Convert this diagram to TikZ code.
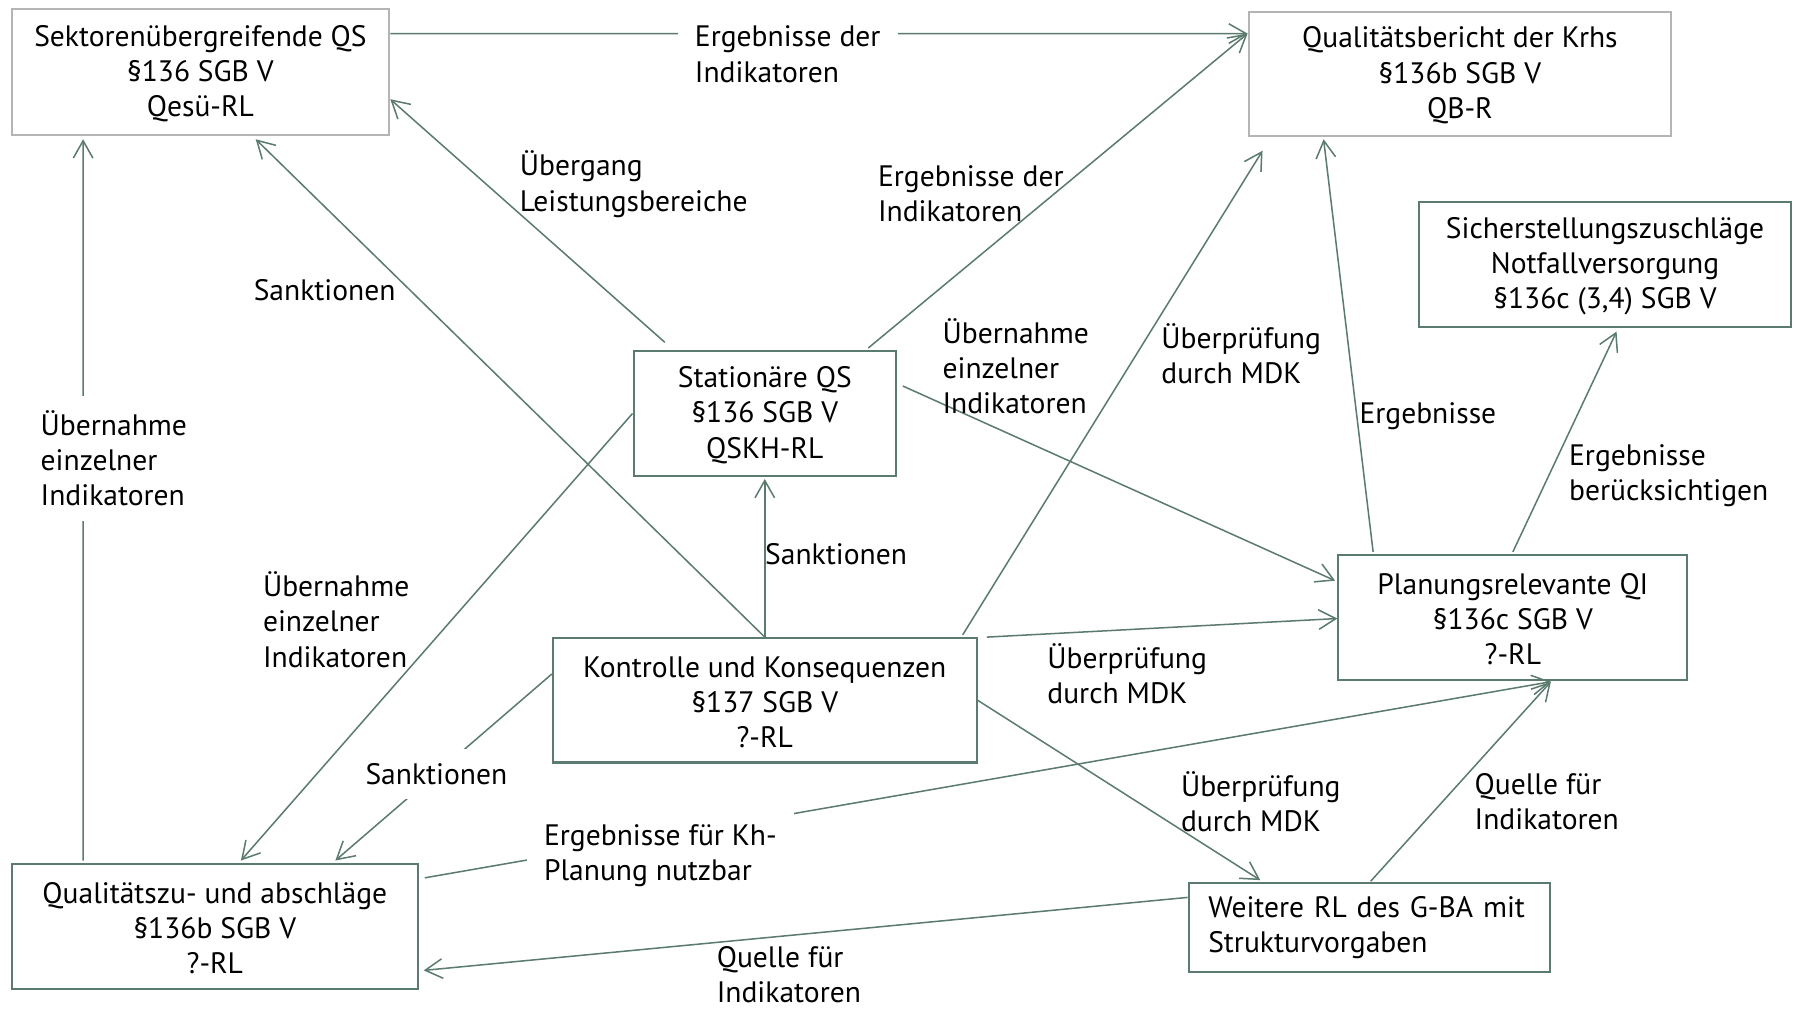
\documentclass[tikz,border=0pt]{standalone}
\usepackage{fontspec}
\setmainfont{PT Sans}
\usepackage{tikz}
\usetikzlibrary{arrows.meta, calc}
\definecolor{qsgreen}{HTML}{5B7B6F}
\definecolor{qsgray}{HTML}{B4B4B4}
\tikzstyle{box} = [rectangle, draw=qsgreen, line width=1pt, inner sep=0pt,
           align=center, font=\fontsize{14.6}{17.4}\selectfont]
\tikzstyle{graybox} = [box, draw=qsgray]
\tikzstyle{lbl} = [inner sep=0pt, anchor=west, align=left,
           font=\fontsize{14.6}{17.4}\selectfont]
\tikzstyle{lblw} = [lbl, fill=white, inner xsep=0.3cm, inner ysep=0.25cm]
\tikzstyle{arrow} = [draw=qsgreen, line width=0.75pt,
           -{Straight Barb[length=0.3cm,width=0.34cm]}]

\begin{document}
\begin{tikzpicture}[x=0.02cm, y=-0.02cm]
\useasboundingbox (0,0) rectangle (1568,877);
\node (sektor) [graybox, minimum width=6.56cm, minimum height=2.18cm] at (174,62.5)
   {\rule{0pt}{12pt}Sektorenübergreifende QS\\§136 SGB V\\Qesü-RL};
\node (bericht) [graybox, minimum width=7.34cm, minimum height=2.16cm] at (1267.5,64)
   {\rule{0pt}{12pt}Qualitätsbericht der Krhs\\§136b SGB V\\QB-R};
\node (sicher) [box, minimum width=6.46cm, minimum height=2.18cm] at (1393.5,229.5)
   {\rule{0pt}{12pt}Sicherstellungszuschläge\\Notfallversorgung\\§136c (3,4) SGB V};
\node (station) [box, minimum width=4.56cm, minimum height=2.16cm] at (664,359)
   {\rule{0pt}{12pt}Stationäre QS\\§136 SGB V\\QSKH-RL};
\node (planung) [box, minimum width=6.06cm, minimum height=2.16cm] at (1313.5,536)
   {\rule{0pt}{12pt}Planungsrelevante QI\\§136c SGB V\\?-RL};
\node (kontrolle) [box, minimum width=7.36cm, minimum height=2.16cm] at (664,608)
   {\rule{0pt}{12pt}Kontrolle und Konsequenzen\\§137 SGB V\\?-RL};
\node (zuab) [box, minimum width=7.06cm, minimum height=2.18cm] at (186.5,804.5)
   {\rule{0pt}{12pt}Qualitätszu- und abschläge\\§136b SGB V\\?-RL};
\node (weitere) [box, align=left, text width=5.6cm, minimum width=6.28cm,
   minimum height=1.54cm] at (1189,805.5)
   {Weitere RL des G-BA mit\\Strukturvorgaben};

\draw [arrow] ($(sektor.north east)+(0,22)$) -- ($(bericht.north west)+(0,20)$);
\draw [arrow] ($(station.north west)+(28,-7)$) -- ($(sektor.north east)+(0,79)$);
\draw [arrow] (kontrolle.north) -- ($(sektor.south)+(48,3)$);
\draw [arrow] ($(station.north east)+(-25,-2)$) -- ($(bericht.north west)+(0,20)$);
\draw [arrow] ($(kontrolle.north east)+(-13,-2)$) -- ($(bericht.south west)+(13,12)$);
\draw [arrow] ($(planung.north west)+(31,-2)$) -- ($(bericht.south west)+(66,2)$);
\draw [arrow] ($(planung.north)+(0,-2)$) -- ($(sicher.south)+(10,3)$);
\draw [arrow] ($(station.north east)+(5,31)$) -- ($(planung.north west)+(-2,23)$);
\draw [arrow] ($(kontrolle.north east)+(8,0)$) -- ($(planung.west)+(0,1)$);
\draw [arrow] ($(zuab.north east)+(5,13)$) -- ($(planung.south)+(33,1)$);
\draw [arrow] (station.west) -- ($(zuab.north west)+(200,-2)$);
\draw [arrow] ($(kontrolle.north west)+(0,32)$) -- ($(zuab.north west)+(282,-2)$);
\draw [arrow] ($(zuab.north west)+(63,-2)$) -- ($(sektor.south west)+(63,3)$);
\draw [arrow] (kontrolle.north) -- ($(station.south)+(0,2)$);
\draw [arrow] (kontrolle.east) -- ($(weitere.north west)+(63,-2)$);
\draw [arrow] ($(weitere.north)+(1,-1)$) -- ($(planung.south)+(33,1)$);
\draw [arrow] ($(weitere.north west)+(0,13)$) -- ($(zuab.east)+(4,38)$);

\node (l1) [lblw] at (588,47) {Ergebnisse der\\Indikatoren};
\node (l2) [lbl] at (451,160) {Übergang\\Leistungsbereiche};
\node (l3) [lbl] at (220,252) {Sanktionen};
\node (l4) [lbl] at (762,168) {Ergebnisse der\\Indikatoren};
\node (l5) [lbl] at (1008,307) {Überprüfung\\durch MDK};
\node (l6) [lbl] at (1180,361) {Ergebnisse};
\node (l7) [lbl] at (1362,413) {Ergebnisse\\berücksichtigen};
\node (l8) [lbl] at (818,318) {Übernahme\\einzelner\\Indikatoren};
\node (l9) [lbl] at (909,585) {Überprüfung\\durch MDK};
\node (l10) [lblw] at (457,743) {Ergebnisse für Kh-\\Planung nutzbar};
\node (l11) [lbl] at (228,538) {Übernahme\\einzelner\\Indikatoren};
\node (l12) [lblw] at (302,672) {Sanktionen};
\node (l13) [lblw] at (20,398) {Übernahme\\einzelner\\Indikatoren};
\node (l14) [lbl] at (664,481) {Sanktionen};
\node (l15) [lbl] at (1025,696) {Überprüfung\\durch MDK};
\node (l16) [lbl] at (1280,696) {Quelle für\\Indikatoren};
\node (l17) [lbl] at (622,846) {Quelle für\\Indikatoren};
\end{tikzpicture}
\end{document}
